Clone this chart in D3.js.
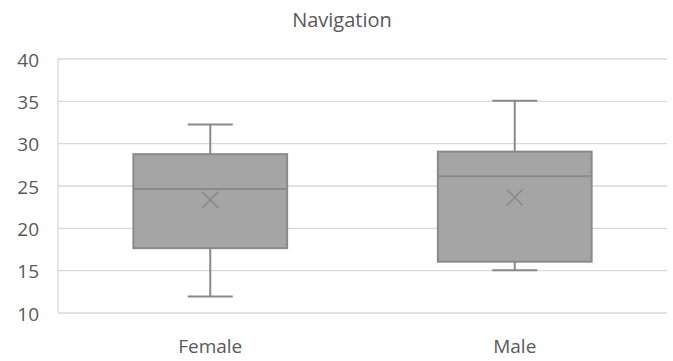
<!DOCTYPE html>
<html><head><meta charset="utf-8">
<script src="https://cdn.jsdelivr.net/npm/d3@7"></script>
<style>body{margin:0;background:#fff}svg{display:block}</style>
</head><body>
<script>
const title = "Navigation";
const categories = ["Female", "Male"];
const mins = [11.9, 15.0];
const q1s = [17.6, 16.0];
const medians = [24.6, 26.1];
const q3s = [28.7, 29.0];
const maxs = [32.2, 35.0];
const means = [23.3, 23.6];
const yTicks = [10, 15, 20, 25, 30, 35, 40];

const W = 673, H = 361;
const m = {left: 58, right: 6, top: 58.5, bottom: 48.5};
const svg = d3.select("body").append("svg").attr("width", W).attr("height", H);
const font = "'Open Sans', sans-serif";
const x = d3.scaleBand().domain(categories).range([m.left, W - m.right]).paddingInner(0).paddingOuter(0);
const y = d3.scaleLinear().domain([10, 40]).range([H - m.bottom, m.top]);

// gridlines
const yAxis = d3.axisLeft(y).tickValues(yTicks).tickSize(-(W - m.left - m.right)).tickPadding(19);
const ga = svg.append("g").attr("transform", `translate(${m.left},0)`).call(yAxis);
ga.select(".domain").remove();
ga.selectAll(".tick line").attr("stroke", "#d9d9d9").attr("stroke-width", 1.3);
ga.selectAll(".tick text").attr("fill", "#595959").attr("dy", "0.4em").style("font-family", font).style("font-size", "19px");
// left border
svg.append("line").attr("x1", m.left).attr("x2", m.left).attr("y1", y(40)).attr("y2", y(10)).attr("stroke", "#d9d9d9").attr("stroke-width", 1.3);

const data = categories.map((c, i) => ({c, min: mins[i], q1: q1s[i], med: medians[i], q3: q3s[i], max: maxs[i], mean: means[i]}));
const bw = x.bandwidth() * 0.505;
const capW = 45;
const stroke = "#8a8a8a";
const g = svg.selectAll(".box").data(data).enter().append("g");
g.each(function(d) {
  const s = d3.select(this);
  const cx = x(d.c) + x.bandwidth() / 2;
  s.append("line").attr("x1", cx).attr("x2", cx).attr("y1", y(d.max)).attr("y2", y(d.q3)).attr("stroke", stroke).attr("stroke-width", 2);
  s.append("line").attr("x1", cx).attr("x2", cx).attr("y1", y(d.q1)).attr("y2", y(d.min)).attr("stroke", stroke).attr("stroke-width", 2);
  s.append("line").attr("x1", cx - capW / 2).attr("x2", cx + capW / 2).attr("y1", y(d.max)).attr("y2", y(d.max)).attr("stroke", stroke).attr("stroke-width", 2);
  s.append("line").attr("x1", cx - capW / 2).attr("x2", cx + capW / 2).attr("y1", y(d.min)).attr("y2", y(d.min)).attr("stroke", stroke).attr("stroke-width", 2);
  s.append("rect").attr("x", cx - bw / 2).attr("y", y(d.q3)).attr("width", bw).attr("height", y(d.q1) - y(d.q3))
    .attr("fill", "#a5a5a5").attr("stroke", stroke).attr("stroke-width", 2);
  s.append("line").attr("x1", cx - bw / 2).attr("x2", cx + bw / 2).attr("y1", y(d.med)).attr("y2", y(d.med)).attr("stroke", stroke).attr("stroke-width", 2);
  const mx = 8, my = y(d.mean);
  s.append("path").attr("d", `M${cx - mx},${my - mx}L${cx + mx},${my + mx}M${cx - mx},${my + mx}L${cx + mx},${my - mx}`)
    .attr("stroke", stroke).attr("stroke-width", 1.5).attr("fill", "none");
});

// x labels
svg.selectAll(".xl").data(categories).enter().append("text")
  .attr("x", d => x(d) + x.bandwidth() / 2).attr("y", 353).attr("text-anchor", "middle")
  .attr("fill", "#595959").style("font-family", font).style("font-size", "19px").text(d => d);

svg.append("text").attr("x", 342).attr("y", 27).attr("text-anchor", "middle")
  .attr("fill", "#595959").style("font-family", font).style("font-size", "20px").text(title);
</script>
</body></html>
